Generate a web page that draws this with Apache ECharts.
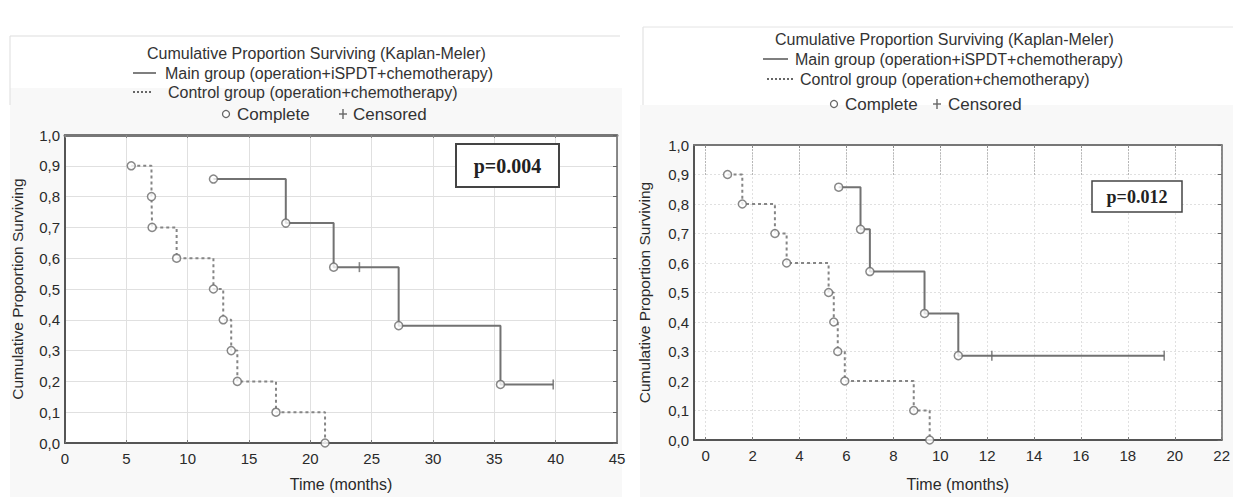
<!DOCTYPE html>
<html><head><meta charset="utf-8">
<script src="https://cdn.jsdelivr.net/npm/echarts@6/dist/echarts.min.js"></script>
<style>html,body{margin:0;padding:0;background:#fff}#c{width:1233px;height:497px}</style>
</head><body><div id="c"></div>
<script>
// ---------- data ----------
const leftXTicks = [0, 5, 10, 15, 20, 25, 30, 35, 40, 45];
const rightXTicks = [0, 2, 4, 6, 8, 10, 12, 14, 16, 18, 20, 22];

// Left panel (p=0.004)
const leftMainTime = [12.1, 18.0, 21.9, 27.2, 35.5];
const leftMainSurv = [0.857, 0.714, 0.571, 0.381, 0.190];
const leftMainCensTime = [24.0, 39.8];
const leftMainCensSurv = [0.571, 0.190];
const leftCtrlTime = [5.4, 7.05, 7.1, 9.1, 12.1, 12.9, 13.55, 14.05, 17.2, 21.2];
const leftCtrlSurv = [0.9, 0.8, 0.7, 0.6, 0.5, 0.4, 0.3, 0.2, 0.1, 0.0];

// Right panel (p=0.012)
const rightMainTime = [5.67, 6.6, 7.0, 9.33, 10.77];
const rightMainSurv = [0.857, 0.714, 0.571, 0.429, 0.286];
const rightMainCensTime = [12.2, 19.55];
const rightMainCensSurv = [0.286, 0.286];
const rightCtrlTime = [0.93, 1.56, 2.95, 3.45, 5.24, 5.46, 5.63, 5.93, 8.87, 9.55];
const rightCtrlSurv = [0.9, 0.8, 0.7, 0.6, 0.5, 0.4, 0.3, 0.2, 0.1, 0.0];

const titleText = 'Cumulative Proportion Surviving (Kaplan-Meler)';
const mainName = 'Main group (operation+iSPDT+chemotherapy)';
const ctrlName = 'Control group (operation+chemotherapy)';
const completeName = 'Complete';
const censoredName = 'Censored';
const yName = 'Cumulative Proportion Surviving';
const xName = 'Time (months)';
const leftP = 'p=0.004';
const rightP = 'p=0.012';

// ---------- helpers ----------
const FF = '"Liberation Sans", Arial, sans-serif';
const zip = (a, b) => a.map((v, i) => [v, b[i]]);
const lineData = (t, s, ct, cs) => zip(t, s).concat(zip(ct || [], cs || [])).sort((p, q) => p[0] - q[0]);
const yFmt = v => v.toFixed(1).replace('.', ',');

function bottomX(grid, min, max, ticks, gridType, nameGap, useInterval) {
  const ax = {
    gridIndex: grid, type: 'value', min: min, max: max, position: 'bottom',
    axisLine: { show: true, onZero: false, lineStyle: { color: '#555', width: 2 } },
    axisTick: { show: true, inside: true, length: 3, lineStyle: { color: '#777' } },
    axisLabel: { color: '#2a2a2a', fontSize: 15, margin: 8, fontFamily: FF },
    splitLine: { show: true, lineStyle: { color: '#e0e0e0', width: 1, type: gridType } },
    name: xName, nameLocation: 'middle', nameGap: nameGap,
    nameTextStyle: { color: '#2a2a2a', fontSize: 16, fontFamily: FF }
  };
  if (useInterval) { ax.interval = useInterval; }
  else { ax.axisTick.customValues = ticks; ax.axisLabel.customValues = ticks; }
  return ax;
}
function topX(grid, min, max, ticks, width, useInterval) {
  const ax = {
    gridIndex: grid, type: 'value', min: min, max: max, position: 'top',
    axisLine: { show: true, onZero: false, lineStyle: { color: '#777', width: width } },
    axisTick: { show: true, inside: true, length: 3, lineStyle: { color: '#888' } },
    axisLabel: { show: false }, splitLine: { show: false }
  };
  if (useInterval) ax.interval = useInterval; else ax.axisTick.customValues = ticks;
  return ax;
}
function leftY(grid, gap, gridType) {
  return {
    gridIndex: grid, type: 'value', min: 0, max: 1, interval: 0.1, position: 'left',
    axisLine: { show: true, onZero: false, lineStyle: { color: '#555', width: 2 } },
    axisTick: { show: false },
    axisLabel: { color: '#2a2a2a', fontSize: 15, margin: 5, fontFamily: FF, formatter: yFmt },
    splitLine: { show: true, lineStyle: { color: '#e0e0e0', width: 1, type: gridType } },
    name: yName, nameLocation: 'middle', nameRotate: 90, nameGap: gap,
    nameTextStyle: { color: '#2a2a2a', fontSize: 15.5, fontFamily: FF }
  };
}
function rightY(grid) {
  return {
    gridIndex: grid, type: 'value', min: 0, max: 1, interval: 0.1, position: 'right',
    axisLine: { show: true, onZero: false, lineStyle: { color: '#666', width: 1.5 } },
    axisTick: { show: true, inside: true, length: 4, lineStyle: { color: '#666' } },
    axisLabel: { show: false }, splitLine: { show: false }
  };
}
function stepLine(xi, yi, data, name, dashed) {
  return {
    type: 'line', name: name, xAxisIndex: xi, yAxisIndex: yi, step: 'end',
    data: data, showSymbol: false, symbol: 'none', silent: true, z: 3,
    lineStyle: { color: dashed ? '#858585' : '#727272', width: 2, type: dashed ? [3, 3] : 'solid' }
  };
}
function completeSeries(xi, yi, data) {
  return {
    type: 'scatter', name: completeName, xAxisIndex: xi, yAxisIndex: yi, data: data,
    symbol: 'circle', symbolSize: 8, z: 5, silent: true,
    itemStyle: { color: '#fff', borderColor: '#6a6a6a', borderWidth: 1.5 }
  };
}
function censoredSeries(xi, yi, data) {
  return {
    type: 'scatter', name: censoredName, xAxisIndex: xi, yAxisIndex: yi, data: data,
    symbol: 'rect', symbolSize: [1.6, 10], z: 5, silent: true,
    itemStyle: { color: '#6a6a6a' }
  };
}

// ---------- legend graphics ----------
function legendBlock(o) {
  const c = '#333';
  const ts = (x, y, t, fs) => ({ type: 'text', x: x, y: y, style: { text: t, fill: c, font: (fs || 16) + 'px ' + FF, textVerticalAlign: 'middle', textAlign: 'left' } });
  return [
    ts(o.t1x, o.t1y, titleText),
    { type: 'line', shape: { x1: o.d2a, y1: o.y2, x2: o.d2b, y2: o.y2 }, style: { stroke: '#555', lineWidth: 1.5 } },
    ts(o.t2x, o.y2, mainName),
    { type: 'line', shape: { x1: o.d3a, y1: o.y3, x2: o.d3b, y2: o.y3 }, style: { stroke: '#666', lineWidth: 2, lineDash: [2, 2] } },
    ts(o.t3x, o.y3, ctrlName),
    { type: 'circle', shape: { cx: o.c4, cy: o.y4, r: 3.5 }, style: { fill: '#fff', stroke: '#666', lineWidth: 1.3 } },
    ts(o.t4x, o.y4, completeName, 17),
    { type: 'line', shape: { x1: o.s4, y1: o.y4 - 5, x2: o.s4, y2: o.y4 + 5 }, style: { stroke: '#666', lineWidth: 1.4 } },
    { type: 'line', shape: { x1: o.s4 - 4, y1: o.y4, x2: o.s4 + 4, y2: o.y4 }, style: { stroke: '#666', lineWidth: 1.4 } },
    ts(o.t5x, o.y4, censoredName, 17)
  ];
}
function pBox(x, y, w, h, txt, fs, lw) {
  return [
    { type: 'rect', shape: { x: x, y: y, width: w, height: h }, style: { fill: '#fff', stroke: '#444', lineWidth: lw }, z: 10 },
    { type: 'text', x: x + w / 2, y: y + h / 2, z: 11, style: { text: txt, fill: '#222', font: 'bold ' + fs + 'px "Liberation Serif", "Times New Roman", serif', textAlign: 'center', textVerticalAlign: 'middle' } }
  ];
}

const graphics = [
  { type: 'rect', shape: { x: 10, y: 88, width: 612, height: 409 }, style: { fill: '#f8f8f8' }, z: -10 },
  { type: 'rect', shape: { x: 640, y: 105, width: 593, height: 392 }, style: { fill: '#f8f8f8' }, z: -10 },
  { type: 'line', shape: { x1: 10, y1: 36, x2: 620, y2: 36 }, style: { stroke: '#ddd', lineWidth: 1 }, z: -9 },
  { type: 'line', shape: { x1: 10, y1: 36, x2: 10, y2: 105 }, style: { stroke: '#ddd', lineWidth: 1 }, z: -9 },
  { type: 'line', shape: { x1: 643, y1: 27, x2: 643, y2: 105 }, style: { stroke: '#ddd', lineWidth: 1 }, z: -9 },
  { type: 'line', shape: { x1: 643, y1: 27, x2: 1233, y2: 27 }, style: { stroke: '#e4e4e4', lineWidth: 1 }, z: -9 }
].concat(
  legendBlock({ t1x: 147, t1y: 53, d2a: 133, d2b: 156, y2: 73, t2x: 165, d3a: 133, d3b: 151, y3: 92, t3x: 168, c4: 226, y4: 114, t4x: 237, s4: 343, t5x: 353 }),
  legendBlock({ t1x: 775, t1y: 39, d2a: 763, d2b: 788, y2: 59, t2x: 795, d3a: 767, d3b: 795, y3: 79, t3x: 800, c4: 834, y4: 104, t4x: 845, s4: 937, t5x: 948 }),
  pBox(456, 144, 103, 43, leftP, 20, 2),
  pBox(1092, 181, 90, 31, rightP, 18, 1.5)
);

const rightFrameMarks = {
  silent: true, symbol: 'none', label: { show: false },
  lineStyle: { color: '#8a8a8a', width: 1, type: [1, 2] },
  data: rightXTicks.filter(v => v < 22).map(v => [{ coord: [v, 0.9] }, { coord: [v, 1.0] }])
};

const rightMainLine = stepLine(2, 2, lineData(rightMainTime, rightMainSurv, rightMainCensTime, rightMainCensSurv), mainName, false);
rightMainLine.markLine = rightFrameMarks;

const option = {
  backgroundColor: '#fff',
  animation: false,
  textStyle: { fontFamily: FF },
  grid: [
    { left: 65, right: 616, top: 135, bottom: 50, show: true, backgroundColor: '#fff', borderWidth: 0 },
    { left: 694, right: 3, top: 145, bottom: 53, show: true, backgroundColor: '#fff', borderWidth: 0 }
  ],
  xAxis: [
    bottomX(0, 0, 45, leftXTicks, 'solid', 33, 5),
    topX(0, 0, 45, leftXTicks, 3, 5),
    bottomX(1, -0.5, 22, rightXTicks, [2, 2], 36, null),
    topX(1, -0.5, 22, rightXTicks, 2, null)
  ],
  yAxis: [leftY(0, 40, 'solid'), rightY(0), leftY(1, 42, [2, 2]), rightY(1)],
  graphic: graphics,
  series: [
    stepLine(0, 0, lineData(leftMainTime, leftMainSurv, leftMainCensTime, leftMainCensSurv), mainName, false),
    stepLine(0, 0, zip(leftCtrlTime, leftCtrlSurv), ctrlName, true),
    completeSeries(0, 0, zip(leftMainTime, leftMainSurv).concat(zip(leftCtrlTime, leftCtrlSurv))),
    censoredSeries(0, 0, zip(leftMainCensTime, leftMainCensSurv)),
    rightMainLine,
    stepLine(2, 2, zip(rightCtrlTime, rightCtrlSurv), ctrlName, true),
    completeSeries(2, 2, zip(rightMainTime, rightMainSurv).concat(zip(rightCtrlTime, rightCtrlSurv))),
    censoredSeries(2, 2, zip(rightMainCensTime, rightMainCensSurv))
  ]
};
const chart = echarts.init(document.getElementById('c'), null, { renderer: 'svg' });
chart.setOption(option);
</script></body></html>
